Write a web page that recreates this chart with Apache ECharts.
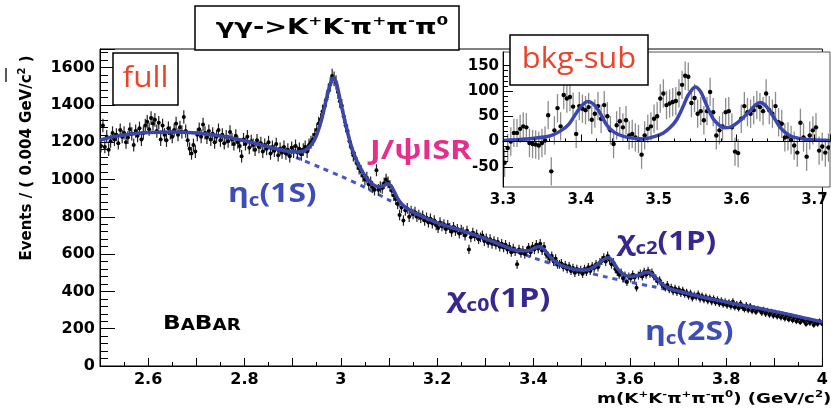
<!DOCTYPE html>
<html><head><meta charset="utf-8">
<script src="https://cdn.jsdelivr.net/npm/echarts@6/dist/echarts.min.js"></script>
<style>html,body{margin:0;padding:0;background:#fff}#c{width:831px;height:410px}</style>
</head><body><div id="c"></div>
<script>
// ---- main histogram: bins of 0.004 GeV from 2.500 to 4.000 ----
const binStart = 2.502, binWidth = 0.004;
const counts = [
1180,1290,1175,1230,1160,1205,1250,1215,1240,1195,1265,1230,1250,1200,1225,1270,1245,1185,1260,1235,1275,1215,1250,1290,1310,
1270,1330,1300,1320,1260,1305,1215,1290,1240,1210,1275,1250,1230,1265,1300,1240,1280,1255,1335,1260,1210,1165,1140,1185,1150,
1240,1270,1230,1295,1250,1225,1260,1215,1245,1200,1230,1265,1210,1240,1195,1230,1205,1255,1215,1190,1235,1200,1180,1125,1215,
1190,1230,1170,1205,1185,1160,1210,1175,1195,1150,1185,1165,1200,1140,1175,1155,1190,1130,1165,1145,1175,1140,1160,1125,1170,
1150,1180,1145,1165,1135,1160,1175,1150,1185,1200,1215,1240,1265,1300,1320,1365,1390,1430,1475,1510,1555,1540,1520,1470,1420,
1395,1340,1290,1260,1205,1170,1130,1115,1085,1060,1045,1020,1000,1010,975,985,960,945,1050,945,960,955,980,1000,985,
965,940,915,895,870,810,850,780,835,845,800,830,815,825,800,810,795,805,780,795,770,790,765,780,755,
740,770,750,760,735,755,740,720,745,725,735,710,730,720,700,725,625,690,715,695,705,680,690,700,670,
685,660,680,655,670,650,665,640,655,635,650,625,640,610,630,615,545,625,605,620,600,615,635,610,640,
625,650,630,655,620,640,600,590,575,590,560,575,545,545,550,530,540,520,535,510,525,500,520,505,515,
495,520,505,530,510,535,525,545,530,555,565,580,560,590,570,545,555,520,505,490,500,470,485,450,480,
470,490,475,420,485,495,480,505,490,510,495,500,480,470,455,460,440,430,420,435,410,420,400,415,395,
410,390,405,385,395,375,390,365,380,370,385,360,375,355,370,350,365,345,360,340,355,335,350,330,345,
325,340,320,345,315,330,310,335,315,305,325,300,320,295,310,290,305,300,285,300,280,295,275,290,270,
285,265,280,260,275,255,270,250,265,245,260,240,255,235,250,240,225,245,230,240,220,235,225,240,230
];
// total fit curve
const fitX = [2.50,2.53,2.56,2.60,2.65,2.70,2.75,2.80,2.84,2.87,2.89,2.91,2.925,2.94,2.95,2.96,2.97,2.978,2.984,2.99,2.996,3.00,3.01,3.02,3.03,3.04,3.05,3.06,3.07,3.08,3.09,3.097,3.104,3.112,3.12,3.13,3.145,3.16,3.20,3.25,3.30,3.35,3.37,3.39,3.405,3.412,3.42,3.43,3.44,3.455,3.47,3.49,3.51,3.525,3.54,3.55,3.556,3.565,3.575,3.585,3.60,3.615,3.63,3.638,3.645,3.655,3.665,3.68,3.70,3.75,3.80,3.85,3.90,3.95,4.00];
const fitY = [1212,1230,1243,1252,1255,1250,1234,1208,1182,1162,1152,1148,1155,1190,1240,1320,1430,1510,1545,1525,1460,1410,1295,1195,1120,1065,1020,988,968,960,968,978,968,930,890,860,832,812,768,727,683,632,618,618,636,640,630,600,570,543,528,516,515,530,560,578,580,560,520,495,480,485,500,503,495,470,445,418,402,370,343,318,293,265,236];
// background-only curve
const bkgX = [2.50,2.53,2.56,2.60,2.65,2.70,2.75,2.80,2.84,2.88,2.92,2.96,3.00,3.05,3.10,3.15,3.20,3.25,3.30,3.35,3.40,3.45,3.50,3.55,3.60,3.65,3.70,3.75,3.80,3.85,3.90,3.95,4.00];
const bkgY = [1212,1230,1243,1252,1255,1250,1234,1208,1180,1145,1105,1062,1018,958,890,828,766,725,680,628,580,540,508,478,450,425,398,370,343,318,293,265,236];

// ---- inset: background-subtracted ----
const insetStart = 3.302;
const insetCounts = [
-42,-13,0,17,17,25,30,28,-3,-5,
-6,-8,-3,2,52,-59,22,66,30,92,
85,88,69,15,70,65,62,68,43,55,
70,45,72,50,22,-5,32,40,28,42,
12,15,8,5,-26,12,25,30,45,50,
85,95,72,75,78,80,95,112,130,128,
76,86,55,60,42,60,98,58,12,22,
30,58,60,28,-20,-23,45,70,58,55,
62,72,68,60,95,62,55,70,38,35,
8,10,3,-8,-22,37,8,-30,12,22,
28,-18,-10,-22,-12
];
const insetErr = 28;
const insetFitX = [3.30,3.33,3.36,3.375,3.385,3.394,3.402,3.409,3.416,3.424,3.433,3.443,3.455,3.47,3.48,3.495,3.506,3.515,3.523,3.531,3.538,3.547,3.554,3.562,3.57,3.578,3.585,3.593,3.60,3.609,3.617,3.624,3.63,3.636,3.642,3.649,3.656,3.664,3.672,3.69,3.72];
const insetFitY = [2,5,11,22,35,56,72,79,74,58,33,18,10,6,5,10,17,28,43,68,92,108,98,70,45,32,27,29,36,48,60,72,77,73,62,45,28,16,9,4,2];

const mainData = counts.map((v,i)=>[binStart+i*binWidth, v, Math.sqrt(v)]);
const insetData = insetCounts.map((v,i)=>[insetStart+i*binWidth, v, insetErr]);

function makeErr(barColor, r, w){
  return function(params, api){
    const x=api.value(0), y=api.value(1), e=api.value(2);
    const c=api.coord([x,y]), t=api.coord([x,y+e]), b=api.coord([x,y-e]);
    const l=api.coord([x-binWidth/2,y]), rr=api.coord([x+binWidth/2,y]);
    return {type:'group',children:[
      {type:'line',shape:{x1:c[0],y1:t[1],x2:c[0],y2:b[1]},style:{stroke:barColor,lineWidth:w}},
      {type:'line',shape:{x1:l[0]-0.5,y1:c[1],x2:rr[0]+0.5,y2:c[1]},style:{stroke:barColor,lineWidth:w}},
      {type:'circle',shape:{cx:c[0],cy:c[1],r:r},style:{fill:'#000'}}
    ]};
  };
}
const lblFont = {fontFamily:'DejaVu Sans',fontWeight:'bold',color:'#000'};
const fmt1 = v => String(Math.round(v*10)/10);
const fmt0 = v => String(Math.round(v));

const chart = echarts.init(document.getElementById('c'));
chart.setOption({
  animation:false,
  backgroundColor:'#fff',
  grid:[
    {left:100,right:5,top:49,bottom:44,show:true,borderColor:'#000',borderWidth:1,backgroundColor:'transparent'},
    {left:503,right:1,top:52,bottom:223,show:false},
    {left:503,right:1,top:65.65,bottom:243.2,show:false}
  ],
  xAxis:[
    {type:'value',gridIndex:0,min:2.5,max:4.0,interval:0.1,
     axisLine:{lineStyle:{color:'#000',width:1}},
     axisTick:{inside:true,length:8,lineStyle:{color:'#000'}},
     minorTick:{show:true,splitNumber:2,length:4,lineStyle:{color:'#000'}},
     splitLine:{show:false},
     axisLabel:Object.assign({fontSize:16,margin:6,formatter:v=>(Math.round(v*10)%2===0?fmt1(v):'')},lblFont)},
    {type:'value',gridIndex:1,min:3.3,max:3.72,interval:0.1,z:12,
     axisLine:{lineStyle:{color:'#000',width:1}},
     axisTick:{inside:true,length:7,lineStyle:{color:'#000'}},
     minorTick:{show:true,splitNumber:5,length:3,lineStyle:{color:'#000'}},
     splitLine:{show:false},
     axisLabel:Object.assign({fontSize:15,margin:6,showMaxLabel:false,formatter:v=>fmt1(v)},lblFont)},
    {type:'value',gridIndex:2,min:3.3,max:3.72,show:false}
  ],
  yAxis:[
    {type:'value',gridIndex:0,min:0,max:1700,interval:200,
     axisLine:{show:true,lineStyle:{color:'#000',width:1}},
     axisTick:{show:true,inside:true,length:15,lineStyle:{color:'#000'}},
     minorTick:{show:true,splitNumber:5,length:8,lineStyle:{color:'#000'}},
     splitLine:{show:false},
     axisLabel:Object.assign({fontSize:16,margin:5,showMaxLabel:false,formatter:fmt0},lblFont)},
    {type:'value',gridIndex:1,min:-90,max:177,z:12,
     axisLine:{show:true,lineStyle:{color:'#000',width:1}},
     axisTick:{show:false},axisLabel:{show:false},splitLine:{show:false}},
    {type:'value',gridIndex:2,min:-50,max:150,interval:50,z:12,
     axisLine:{show:false},
     axisTick:{show:true,inside:true,length:10,lineStyle:{color:'#000'}},
     minorTick:{show:true,splitNumber:5,length:5,lineStyle:{color:'#000'}},
     splitLine:{show:false},
     axisLabel:Object.assign({fontSize:15,margin:4,formatter:fmt0},lblFont)}
  ],
  series:[
    {type:'line',xAxisIndex:0,yAxisIndex:0,z:3,data:bkgX.map((x,i)=>[x,bkgY[i]]),smooth:0.3,showSymbol:false,
     lineStyle:{color:'#4456cc',width:3,type:[5,5]}},
    {type:'custom',xAxisIndex:0,yAxisIndex:0,z:4,clip:true,data:mainData,renderItem:makeErr('#222',2,1.2)},
    {type:'line',xAxisIndex:0,yAxisIndex:0,z:5,data:fitX.map((x,i)=>[x,fitY[i]]),smooth:0.3,showSymbol:false,
     lineStyle:{color:'#3a47a8',width:3.5}},
    {type:'custom',xAxisIndex:1,yAxisIndex:1,z:10,clip:true,data:insetData,renderItem:makeErr('#8c8c8c',2.2,1.3)},
    {type:'line',xAxisIndex:1,yAxisIndex:1,z:11,data:insetFitX.map((x,i)=>[x,insetFitY[i]]),smooth:0.3,showSymbol:false,
     lineStyle:{color:'#3a47b0',width:3.5},
     markLine:{silent:true,symbol:'none',label:{show:false},lineStyle:{color:'#000',width:1,type:'solid'},data:[{yAxis:0}]}}
  ],
  graphic:[
    {type:'rect',z:5,shape:{x:503,y:52,width:327,height:135},style:{fill:'#fff',stroke:'#555',lineWidth:1}},
    {type:'line',z:20,shape:{x1:6,y1:68,x2:6,y2:82},style:{stroke:'#222',lineWidth:1.5}},
    // title box
    {type:'rect',z:20,shape:{x:195,y:6,width:264,height:44},style:{fill:'#fff',stroke:'#000',lineWidth:1.5}},
    {type:'text',z:21,x:332,y:29,scaleX:1.3,style:{text:'{a|γγ->K}{s|+}{a|K}{s|-}{a|π}{s|+}{a|π}{s|-}{a|π}{s|0}',
      align:'center',verticalAlign:'middle',
      rich:{a:{fontFamily:'DejaVu Sans',fontWeight:'bold',fontSize:21,lineHeight:28,fill:'#000'},
            s:{fontFamily:'DejaVu Sans',fontWeight:'bold',fontSize:13,lineHeight:13,verticalAlign:'top',fill:'#000'}}}},
    // full box
    {type:'rect',z:20,shape:{x:113,y:53,width:65,height:52},style:{fill:'#fff',stroke:'#000',lineWidth:1.5}},
    {type:'text',z:21,x:145.5,y:78,scaleX:1.05,style:{text:'full',fontFamily:'Open Sans',fontSize:30,fill:'#ee4228',align:'center',verticalAlign:'middle'}},
    // bkg-sub box
    {type:'rect',z:20,shape:{x:510,y:35,width:138,height:50},style:{fill:'#fff',stroke:'#000',lineWidth:1.5}},
    {type:'text',z:21,x:579,y:59,scaleX:1.03,style:{text:'bkg-sub',fontFamily:'Open Sans',fontSize:30,fill:'#ee4228',align:'center',verticalAlign:'middle'}},
    // resonance labels
    {type:'text',z:21,x:228,y:195,scaleX:1.22,style:{text:'{e|η}{b|c}{e|(1S)}',align:'left',verticalAlign:'middle',
      rich:{e:{fontFamily:'Open Sans',fontWeight:'bold',fontSize:26,lineHeight:30,fill:'#3d4db5'},
            b:{fontFamily:'Open Sans',fontWeight:'bold',fontSize:17,lineHeight:22,verticalAlign:'bottom',fill:'#3d4db5'}}}},
    {type:'text',z:21,x:645,y:333,scaleX:1.22,style:{text:'{e|η}{b|c}{e|(2S)}',align:'left',verticalAlign:'middle',
      rich:{e:{fontFamily:'Open Sans',fontWeight:'bold',fontSize:26,lineHeight:30,fill:'#3d4db5'},
            b:{fontFamily:'Open Sans',fontWeight:'bold',fontSize:17,lineHeight:22,verticalAlign:'bottom',fill:'#3d4db5'}}}},
    {type:'text',z:21,x:370,y:152,scaleX:1.25,style:{text:'J/ψISR',fontFamily:'Open Sans',fontWeight:'bold',fontSize:26,fill:'#e62e8b',align:'left',verticalAlign:'middle'}},
    {type:'text',z:21,x:617,y:243,scaleX:1.2,style:{text:'{e|χ}{b|c2}{e|(1P)}',align:'left',verticalAlign:'middle',
      rich:{e:{fontFamily:'Open Sans',fontWeight:'bold',fontSize:26,lineHeight:30,fill:'#36288f'},
            b:{fontFamily:'Open Sans',fontWeight:'bold',fontSize:17,lineHeight:22,verticalAlign:'bottom',fill:'#36288f'}}}},
    {type:'text',z:21,x:447,y:300,scaleX:1.25,style:{text:'{e|χ}{b|c0}{e|(1P)}',align:'left',verticalAlign:'middle',
      rich:{e:{fontFamily:'Open Sans',fontWeight:'bold',fontSize:26,lineHeight:30,fill:'#36288f'},
            b:{fontFamily:'Open Sans',fontWeight:'bold',fontSize:17,lineHeight:22,verticalAlign:'bottom',fill:'#36288f'}}}},
    {type:'text',z:21,x:163,y:323,scaleX:1.22,style:{text:'{B|B}{a|A}{B|B}{a|AR}',align:'left',verticalAlign:'middle',
      rich:{B:{fontFamily:'DejaVu Sans',fontWeight:'bold',fontSize:19,lineHeight:21,verticalAlign:'bottom',fill:'#000'},
            a:{fontFamily:'DejaVu Sans',fontWeight:'bold',fontSize:15,lineHeight:18,verticalAlign:'bottom',fill:'#000'}}}},
    // axis titles
    {type:'text',z:21,x:27,y:158,rotation:Math.PI/2,style:{text:'{a|Events / ( 0.004 GeV/c}{s|2}{a| )}',align:'center',verticalAlign:'middle',
      rich:{a:{fontFamily:'DejaVu Sans',fontWeight:'bold',fontSize:15,lineHeight:20,fill:'#000'},
            s:{fontFamily:'DejaVu Sans',fontWeight:'bold',fontSize:10,lineHeight:10,verticalAlign:'top',fill:'#000'}}}},
    {type:'text',z:21,x:597,y:399,scaleX:1.3,style:{text:'{a|m(K}{s|+}{a|K}{s|-}{a|π}{s|+}{a|π}{s|-}{a|π}{s|0}{a|) (GeV/c}{s|2}{a|)}',align:'left',verticalAlign:'middle',
      rich:{a:{fontFamily:'DejaVu Sans',fontWeight:'bold',fontSize:14,lineHeight:18,fill:'#000'},
            s:{fontFamily:'DejaVu Sans',fontWeight:'bold',fontSize:9,lineHeight:9,verticalAlign:'top',fill:'#000'}}}}
  ]
});
</script></body></html>
